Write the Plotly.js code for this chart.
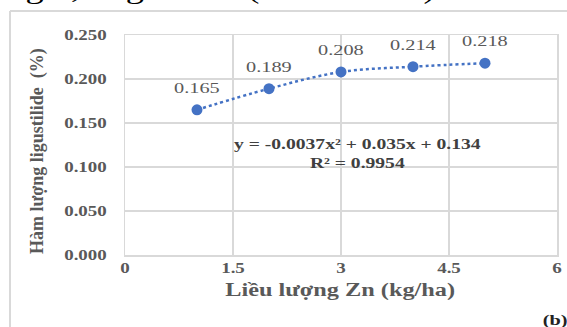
<!DOCTYPE html>
<html>
<head>
<meta charset="utf-8">
<script src="https://cdn.plot.ly/plotly-3.0.1.min.js"></script>
<style>html,body{margin:0;padding:0;background:#fff;}#chart{width:567px;height:327px;}</style>
</head>
<body>
<div id="chart"></div>
<script>
var doses = [1, 2, 3, 4, 5];
var ligustilide = [0.165, 0.189, 0.208, 0.214, 0.218];
var labels = ['0.165', '0.189', '0.208', '0.214', '0.218'];
var xTicks = [0, 1.5, 3, 4.5, 6];
var xTickText = ['0', '1.5', '3', '4.5', '6'];
var yTicks = [0, 0.05, 0.10, 0.15, 0.20, 0.25];
var yTickText = ['0.000', '0.050', '0.100', '0.150', '0.200', '0.250'];
var equationText = 'y = -0.0037x² + 0.035x + 0.134<br>R² = 0.9954';
var yTitle = 'Hàm lượng ligustilide  (%)';
var xTitle = 'Liều lượng Zn (kg/ha)';

var serif = 'Liberation Serif, Times New Roman, serif';
var blue = '#4472C4';
var grey = '#595959';
var grid = '#d9d9d9';
var STRETCH = 1.35;

var trend = {
  x: doses, y: ligustilide, mode: 'lines', type: 'scatter',
  line: {color: blue, width: 2.5, dash: 'dot', shape: 'spline'},
  hoverinfo: 'skip', showlegend: false
};
var pts = {
  x: doses, y: ligustilide, mode: 'markers', type: 'scatter',
  marker: {color: blue, size: 11},
  showlegend: false, cliponaxis: false
};

function px(v) { return (v - 125) / 432; }
function py(v) { return (255 - v) / 220; }

var annotations = doses.map(function (d, i) {
  return {x: d, y: ligustilide[i], xref: 'x', yref: 'y', text: labels[i], showarrow: false,
          yshift: 22, font: {family: serif, size: 15, color: grey}};
});
annotations.push(
  {xref: 'paper', yref: 'paper', x: px(357), y: py(153), xanchor: 'center', yanchor: 'middle',
   text: equationText, showarrow: false, align: 'center',
   font: {family: serif, size: 14.5, color: '#404040', weight: 'bold'}},
  {xref: 'paper', yref: 'paper', x: px(566), y: py(320),
   xanchor: 'right', yanchor: 'middle', text: '(b)', showarrow: false,
   font: {family: serif, size: 15, color: '#222', weight: 'bold'}},
  {xref: 'paper', yref: 'paper', x: px(-4), y: py(6),
   xanchor: 'left', yanchor: 'bottom', text: 'a lượng 4,7 kg Zn/ha (Hình 3.12b)', showarrow: false,
   font: {family: serif, size: 27, color: '#000'}},
  {xref: 'paper', yref: 'paper', x: px(37), y: py(151), xanchor: 'center', yanchor: 'middle',
   textangle: -90, text: yTitle, showarrow: false,
   font: {family: serif, size: 18, color: grey, weight: 'bold'}},
  {xref: 'paper', yref: 'paper', x: px(340), y: py(290), xanchor: 'center', yanchor: 'middle',
   text: xTitle, showarrow: false,
   font: {family: serif, size: 18, color: grey, weight: 'bold'}}
);

var layout = {
  width: 567, height: 327,
  margin: {l: 125, r: 10, t: 35, b: 72},
  paper_bgcolor: '#fff', plot_bgcolor: '#fff',
  showlegend: false,
  xaxis: {
    range: [0, 6], tickvals: xTicks, ticktext: xTickText,
    showgrid: true, gridcolor: grid, gridwidth: 1.5, zeroline: false,
    showline: true, linecolor: grid, linewidth: 1.5, mirror: true,
    ticks: '', ticklen: 0,
    tickfont: {family: serif, size: 14, color: grey, weight: 'bold'}
  },
  yaxis: {
    range: [0, 0.25], tickvals: yTicks, ticktext: yTickText,
    showgrid: true, gridcolor: grid, gridwidth: 1.5, zeroline: false,
    showline: true, linecolor: grid, linewidth: 1.5, mirror: true,
    ticks: '', ticklen: 0, ticklabelstandoff: 14,
    tickfont: {family: serif, size: 14, color: grey, weight: 'bold'}
  },
  annotations: annotations,
  shapes: [
    {type: 'line', xref: 'paper', yref: 'paper', x0: px(10), x1: px(10),
     y0: py(11), y1: py(330), line: {color: grid, width: 2}},
    {type: 'line', xref: 'paper', yref: 'paper', x0: px(10), x1: px(570),
     y0: py(11), y1: py(11), line: {color: grid, width: 2}}
  ]
};

Plotly.newPlot('chart', [trend, pts], layout, {displayModeBar: false, staticPlot: true}).then(function (gd) {
  // The reference image is horizontally stretched; widen horizontal texts to match.
  gd.querySelectorAll('svg text').forEach(function (t) {
    if (t.textContent === yTitle) return;
    var lines = t.querySelectorAll('tspan.line');
    var targets = lines.length ? Array.prototype.slice.call(lines) : [t];
    targets.forEach(function (el) {
      var w = el.getComputedTextLength();
      if (w > 0) {
        el.setAttribute('textLength', (w * STRETCH).toFixed(1));
        el.setAttribute('lengthAdjust', 'spacingAndGlyphs');
      }
    });
  });
});
</script>
</body>
</html>
